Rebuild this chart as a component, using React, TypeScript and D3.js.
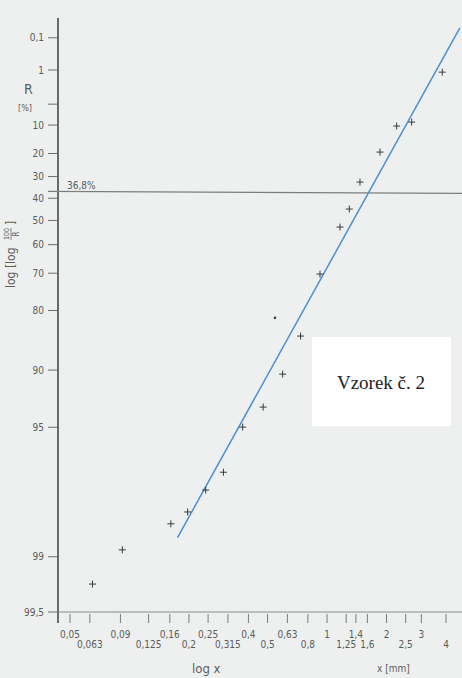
import React, { useRef, useEffect } from 'react';
import * as d3 from 'd3';

// R axis ticks (percent retained)
const rTicks = [0.1, 1, 5, 10, 20, 30, 40, 50, 60, 70, 80, 90, 95, 99, 99.5];
const rTickLabels = ['0,1', '1', '', '10', '20', '30', '40', '50', '60', '70', '80', '90', '95', '99', '99,5'];

// x axis ticks (mm), two staggered label rows
const xTicks = [0.05, 0.063, 0.09, 0.125, 0.16, 0.2, 0.25, 0.315, 0.4, 0.5, 0.63, 0.8, 1, 1.25, 1.4, 1.6, 2, 2.5, 3, 4];
const xTickLabels = ['0,05', '0,063', '0,09', '0,125', '0,16', '0,2', '0,25', '0,315', '0,4', '0,5', '0,63', '0,8', '1', '1,25', '1,4', '1,6', '2', '2,5', '3', '4'];

const sieveX = [0.065, 0.092, 0.162, 0.197, 0.243, 0.299, 0.374, 0.475, 0.596, 0.735, 0.921, 1.163, 1.296, 1.468, 1.853, 2.25, 2.68, 3.83];
const residueR = [99.29, 98.91, 98.49, 98.25, 97.7, 97.13, 94.99, 93.6, 90.47, 85.07, 70.27, 52.85, 44.94, 32.51, 19.42, 10.28, 9.15, 1.13];

// stray dot near the 80 % level
const dotX = [0.545];
const dotR = [81.6];

// fitted RRSB line endpoints
const fitX = [0.175, 4.7];
const fitR = [98.73, 0.04];

const R_REF = 36.8;

const rrsb = (r: number) => Math.log10(Math.log(100 / r));

const App: React.FC = () => {
  const svgRef = useRef<SVGSVGElement>(null);

  useEffect(() => {
    const svg = d3.select(svgRef.current);
    svg.selectAll('*').remove();

    const W = 462;
    const H = 678;
    const axisX = 58;
    const axisY = 612;
    const font = '"DejaVu Sans Condensed", "DejaVu Sans", sans-serif';
    const ink = '#5a5c5c';

    svg.append('rect').attr('width', W).attr('height', H).attr('fill', '#eef0ef');

    const xScale = d3.scaleLog().domain([0.05, 4]).range([70, 446]);
    const fScale = d3.scaleLinear().domain([rrsb(1), rrsb(99.5)]).range([70, axisY]);
    const yScale = (r: number) => fScale(rrsb(r));

    // y axis
    svg.append('line')
      .attr('x1', axisX).attr('x2', axisX)
      .attr('y1', 18).attr('y2', 623)
      .attr('stroke', '#3c3e3e').attr('stroke-width', 1.5);

    const yt = svg.append('g');
    rTicks.forEach((r, i) => {
      yt.append('line')
        .attr('x1', 48).attr('x2', axisX)
        .attr('y1', yScale(r)).attr('y2', yScale(r))
        .attr('stroke', '#6a6c6c').attr('stroke-width', 1);
      if (rTickLabels[i]) {
        yt.append('text')
          .attr('x', 44)
          .attr('y', yScale(r))
          .attr('dy', '0.35em')
          .attr('text-anchor', 'end')
          .attr('font-family', font)
          .attr('font-size', 10)
          .attr('fill', ink)
          .text(rTickLabels[i]);
      }
    });

    // x axis
    svg.append('line')
      .attr('x1', axisX).attr('x2', W)
      .attr('y1', axisY).attr('y2', axisY)
      .attr('stroke', '#8a8c8c').attr('stroke-width', 1);

    const xt = svg.append('g');
    xTicks.forEach((v, i) => {
      xt.append('line')
        .attr('x1', xScale(v)).attr('x2', xScale(v))
        .attr('y1', axisY + 2).attr('y2', axisY + 11)
        .attr('stroke', '#7a7c7c').attr('stroke-width', 1);
      xt.append('text')
        .attr('x', xScale(v))
        .attr('y', i % 2 === 0 ? 638 : 648)
        .attr('text-anchor', 'middle')
        .attr('font-family', font)
        .attr('font-size', 10)
        .attr('fill', ink)
        .text(xTickLabels[i]);
    });

    // 36,8 % reference line
    svg.append('line')
      .attr('x1', 48).attr('x2', W)
      .attr('y1', yScale(R_REF)).attr('y2', yScale(R_REF) + 2)
      .attr('stroke', '#7c7e7e').attr('stroke-width', 1.2);
    svg.append('text')
      .attr('x', 67).attr('y', yScale(R_REF) - 2)
      .attr('font-family', font).attr('font-size', 10).attr('fill', ink)
      .text('36,8%');

    // axis titles
    svg.append('text')
      .attr('x', 24).attr('y', 94)
      .attr('font-family', font).attr('font-size', 14).attr('fill', ink)
      .text('R');
    svg.append('text')
      .attr('x', 18).attr('y', 111)
      .attr('font-family', font).attr('font-size', 9).attr('fill', ink)
      .text('[%]');

    const rot = svg.append('g')
      .attr('transform', 'translate(15,288) rotate(-90)')
      .attr('font-family', font).attr('fill', ink);
    rot.append('text').attr('x', 0).attr('y', 0).attr('font-size', 12).text('log [log');
    rot.append('text').attr('x', 54).attr('y', -6).attr('font-size', 7).attr('text-anchor', 'middle').text('100');
    rot.append('line').attr('x1', 48).attr('x2', 60).attr('y1', -4).attr('y2', -4).attr('stroke', ink).attr('stroke-width', 0.7);
    rot.append('text').attr('x', 54).attr('y', 4).attr('font-size', 8).attr('text-anchor', 'middle').text('R');
    rot.append('text').attr('x', 63).attr('y', 0).attr('font-size', 12).text(']');

    svg.append('text')
      .attr('x', 192).attr('y', 673)
      .attr('font-family', font).attr('font-size', 13).attr('fill', ink)
      .text('log x');
    svg.append('text')
      .attr('x', 377).attr('y', 672)
      .attr('font-family', font).attr('font-size', 10).attr('fill', ink)
      .text('x  [mm]');

    // fitted line
    const line = d3.line<[number, number]>()
      .x((d) => xScale(d[0]))
      .y((d) => yScale(d[1]));
    svg.append('path')
      .datum(fitX.map((x, i) => [x, fitR[i]] as [number, number]))
      .attr('fill', 'none')
      .attr('stroke', '#4a8fd0')
      .attr('stroke-width', 1.5)
      .attr('d', line);

    // data crosses
    const s = 3.5;
    const pts = svg.append('g').attr('stroke', '#3a3c3c').attr('stroke-width', 1);
    sieveX.forEach((x, i) => {
      const cx = xScale(x);
      const cy = yScale(residueR[i]);
      pts.append('line').attr('x1', cx - s).attr('x2', cx + s).attr('y1', cy).attr('y2', cy);
      pts.append('line').attr('x1', cx).attr('x2', cx).attr('y1', cy - s).attr('y2', cy + s);
    });
    dotX.forEach((x, i) => {
      svg.append('circle')
        .attr('cx', xScale(x)).attr('cy', yScale(dotR[i]))
        .attr('r', 1.3).attr('fill', '#3a3c3c');
    });

    // sample label box
    svg.append('rect')
      .attr('x', 312).attr('y', 337)
      .attr('width', 139).attr('height', 89)
      .attr('fill', '#ffffff');
    svg.append('text')
      .attr('x', 381).attr('y', 389)
      .attr('text-anchor', 'middle')
      .attr('font-family', '"Liberation Serif", "Times New Roman", serif')
      .attr('font-size', 19)
      .attr('fill', '#222')
      .text('Vzorek č. 2');
  }, []);

  return (
    <svg
      ref={svgRef}
      width={462}
      height={678}
      style={{ position: 'absolute', left: 0, top: 0 }}
    />
  );
};

export default App;
